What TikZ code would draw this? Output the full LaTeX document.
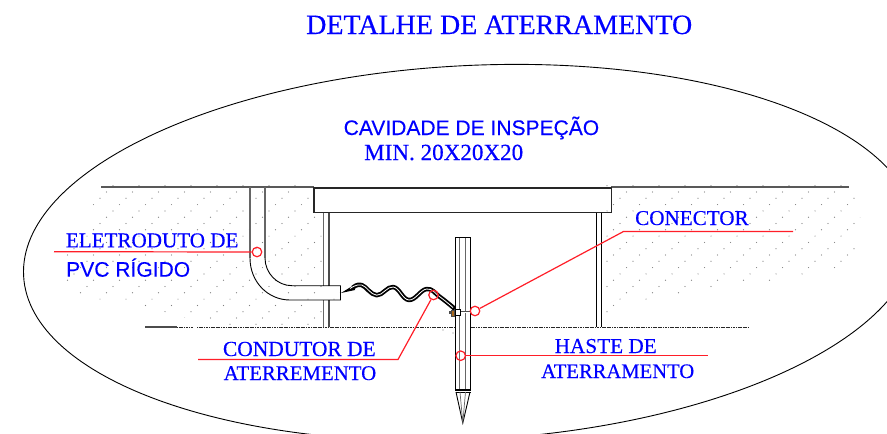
\documentclass[tikz,border=0pt]{standalone}
\usepackage{fontspec}
\usepackage{graphicx}
\setmainfont{Liberation Serif}[FakeBold=0.35]
\setsansfont{Liberation Sans}[FakeBold=0.25]
\definecolor{lblblue}{RGB}{0,0,255}
\definecolor{leader}{RGB}{255,30,40}
\definecolor{lugbrown}{RGB}{170,105,30}
\newcommand{\fitlabel}[2]{\resizebox{#1pt}{!}{#2}}
\newcommand{\soilgrid}{%
  \foreach \i in {0,...,23}{
    \foreach \j in {-4,...,40}{
      \pgfmathsetmacro{\px}{35-6.5*\i+26*\j}
      \pgfmathsetmacro{\py}{185.7+6.3*\i}
      \fill[soildot] (\px,\py) circle (0.6);
    }
  }}
\tikzset{
  lbl/.style={text=lblblue,anchor=base west,inner sep=0pt,font=\fontsize{20}{22}\selectfont},
  lblsans/.style={lbl,font=\sffamily\fontsize{20}{22}\selectfont},
  leaderline/.style={draw=leader,line width=1.2},
  tagring/.style={circle,draw=leader,line width=1.2,minimum size=9.5,inner sep=0pt},
  soildot/.style={fill=black!50},
  groundline/.style={draw=black!65,line width=1.6},
  wallline/.style={line width=1.1},
  thinline/.style={draw=black,line width=0.9},
  rodinner/.style={draw=black!60,line width=1.0},
}
\begin{document}
\begin{tikzpicture}[x=1pt,y=-1pt]
\useasboundingbox (0,0) rectangle (887,434);
\fill[white] (0,0) rectangle (887,434);
\begin{scope}
  \clip (0,0) rectangle (887,434);
  % outline
  \draw[thinline] [rotate around={3:(470,252.6)}] (470,252.6) ellipse [x radius=447,y radius=187];
  % soil stipple
  \begin{scope}
    \clip (101,184) -- (88,212) -- (72,230) -- (64,270) -- (68,295) -- (120,302) -- (165,312) -- (200,322) -- (250,327) -- (323,327) -- (323,300) -- (341,300) -- (341,285) -- (323,285) -- (323,213) -- (314,213) -- (314,184) -- cycle;
    \soilgrid
  \end{scope}
  \begin{scope}
    \clip (603,184) -- (852,184) -- (862,225) -- (856,262) -- (823,274) -- (723,287) -- (657,300) -- (612,312) -- (603,322) -- cycle;
    \soilgrid
  \end{scope}
  \fill[soildot] (443,330) circle (0.6) (453,333) circle (0.6);
  % ground
  \draw[groundline] (101,187) -- (314,187);
  \draw[groundline] (611,187) -- (849,187);
  \draw[draw=black!70,line width=1.3] (145,327) -- (177,327);
  \draw[draw=black!85,line width=0.8,dash pattern=on 1.2pt off 0.5pt] (177,327) -- (193,327);
  \draw[draw=black!85,line width=0.8,dash pattern=on 1.2pt off 0.5pt] (197,327) -- (748,327);
  % inspection box and walls
  \draw[draw=black!85,line width=1.2] (314,188) rectangle (611.5,212.7);
  \draw[wallline,draw=black!60] (323.8,212.7) -- (323.8,285.7) (323.8,300) -- (323.8,327);
  \draw[wallline,draw=black!70] (329,212.7) -- (329,285.7) (329,300) -- (329,327);
  \draw[wallline] (596.3,212.7) -- (596.3,327);
  \draw[wallline] (601.7,212.7) -- (601.7,327);
  % conduit
  \draw[draw=black!60,line width=1.3] (250,187) -- (250,258) (265,187) -- (265,258);
  \draw[thinline] (250,258) .. controls (250,282) and (268,300) .. (290,300) -- (340.5,300) -- (340.5,285.7) -- (292,285.7) .. controls (277,285.7) and (265,273) .. (265,258);
  % cable
  \path[draw=black,line width=4.4,line join=round] plot[smooth,tension=0.7] coordinates {(353,287.5) (361.7,285) (376.7,295.2) (393.3,287) (409,300) (426.7,289) (440,297) (455,309)};
  \fill[black] (341,293) -- (354,285) -- (355,290) -- cycle;
  \path[draw=white,line width=0.8,line join=round] plot[smooth,tension=0.7] coordinates {(350,288.5) (361.7,285) (376.7,295.2) (393.3,287) (409,300) (426.7,289) (440,297) (453,307.5)};
  % rod
  \fill[white] (455.7,237.3) rectangle (470.5,391);
  \draw[rodinner] (459.5,237.3) -- (459.5,390) (465.3,237.3) -- (465.3,390);
  \draw[thinline,line width=1.1] (455.7,390) -- (455.7,237.3) -- (470.5,237.3) -- (470.5,390) -- cycle;
  \draw[thinline] (455.7,392) -- (470.5,392);
  \draw[thinline] (456,392) -- (462.8,423) -- (470,392);
  \draw[rodinner,line width=0.7] (460,392) -- (462.8,423) -- (465.5,392);
  % connector clamp
  \draw[draw=black!70,line width=2.2] (460,312) -- (471,312);
  \draw[draw=white,line width=0.7] (460,312) -- (471,312);
  \fill[black!70] (448.5,310.8) rectangle (451,313.6);
  \draw[fill=lugbrown,draw=black!70,line width=0.5] (450.8,310) rectangle (454.4,316);
  \draw[fill=white,draw=black,line width=0.7] (455,309) rectangle (460.7,315);
  % leaders
  \node[tagring] (ringpvc) at (257,252) {};
  \node[tagring] (ringcable) at (433.5,295) {};
  \node[tagring] (ringclamp) at (475,311) {};
  \node[tagring] (ringrod) at (460.7,355.7) {};
  \coordinate (pvcend) at (54,251.7);
  \coordinate (cableelbow) at (398,359.5);
  \coordinate (cableend) at (198,359.5);
  \coordinate (clampelbow) at (623.5,231.5);
  \coordinate (clampend) at (793,231.5);
  \coordinate (rodend) at (708,355.7);
  \draw[leaderline] (ringpvc) -- (pvcend);
  \draw[leaderline] (ringcable) -- (cableelbow) -- (cableend);
  \draw[leaderline] (ringclamp) -- (clampelbow) -- (clampend);
  \draw[leaderline] (ringrod) -- (rodend);
  % labels
  \node[lbl] (title) at (306,34) {\fitlabel{386}{\fontsize{27}{30}\selectfont DETALHE DE ATERRAMENTO}};
  \node[lblsans] (cavity) at (343.5,135) {\fitlabel{255.5}{CAVIDADE DE INSPEÇÃO}};
  \node[lbl] (cavmin) at (364,160) {\fitlabel{159}{MIN. 20X20X20}};
  \node[lbl] (pvca) at (65.7,247.3) {\fitlabel{172.5}{ELETRODUTO DE}};
  \node[lblsans] (pvcb) at (66,276.7) {\fitlabel{124}{PVC RÍGIDO}};
  \node[lbl] (clamp) at (635,225) {\fitlabel{113.5}{CONECTOR}};
  \node[lbl] (conda) at (222.8,356) {\fitlabel{152.7}{CONDUTOR DE}};
  \node[lbl] (condb) at (223.5,380) {\fitlabel{152.5}{ATERREMENTO}};
  \node[lbl] (hasta) at (554.5,353) {\fitlabel{102}{HASTE DE}};
  \node[lbl] (hastb) at (541,378) {\fitlabel{153}{ATERRAMENTO}};
\end{scope}
\end{tikzpicture}
\end{document}
